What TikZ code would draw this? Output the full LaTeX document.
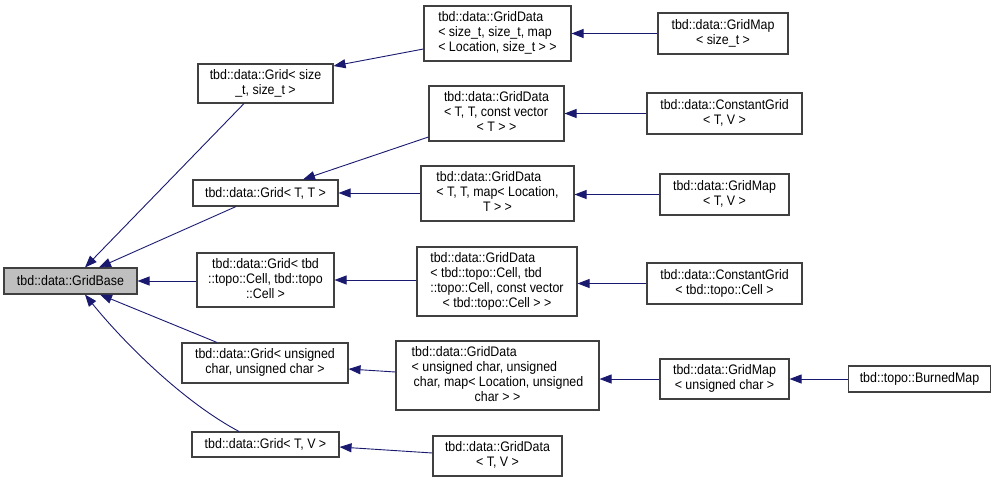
\documentclass[tikz,border=0pt]{standalone}
\usepackage{fontspec}
\setmainfont{Liberation Sans}[FakeStretch=0.9]
\usetikzlibrary{arrows.meta}
\definecolor{edgeblue}{HTML}{191970}
\definecolor{boxline}{HTML}{404040}
\definecolor{basefill}{HTML}{BFBFBF}
\newcommand\leftlines[2]{\begin{tabular}{@{}l@{}}#1\\\multicolumn{1}{@{}c@{}}{#2}\end{tabular}}
\newcommand\midlines[1]{\begin{tabular}{@{}c@{}}#1\end{tabular}}
\tikzset{
  cls/.style={draw=boxline, line width=1.1pt, fill=white, rectangle, inner sep=0pt,
    font=\fontsize{13.8}{15}\selectfont, text=black},
  basecls/.style={cls, fill=basefill},
  edge/.style={draw=edgeblue, line width=0.9pt, -{Triangle[length=12pt,width=9pt]}, color=edgeblue}
}
\begin{document}
\begin{tikzpicture}[x=1pt,y=-1pt]
\useasboundingbox (0,0) rectangle (996,482);
% column 1
\node[basecls, minimum width=133pt, minimum height=26pt] (GridBase) at (70.5,281) {tbd::data::GridBase};
% column 2
\node[cls, minimum width=135pt, minimum height=39pt] (Gsz) at (265.5,83.5) {\midlines{tbd::data::Grid< size\\\_t, size\_t >}};
\node[cls, minimum width=145pt, minimum height=26pt] (Gtt) at (265.5,193) {tbd::data::Grid< T, T >};
\node[cls, minimum width=137pt, minimum height=54pt] (Gcell) at (265.5,280) {\midlines{tbd::data::Grid< tbd\\::topo::Cell, tbd::topo\\::Cell >}};
\node[cls, minimum width=166pt, minimum height=40pt] (Guc) at (265,363) {\midlines{tbd::data::Grid< unsigned\\char, unsigned char >}};
\node[cls, minimum width=147pt, minimum height=25pt] (Gtv) at (265.5,444.5) {tbd::data::Grid< T, V >};
% column 3
\node[cls, minimum width=147pt, minimum height=55pt] (Dsz) at (497.5,33.5) {\leftlines{tbd::data::GridData\\< size\_t, size\_t, map}{< Location, size\_t > >}};
\node[cls, minimum width=135pt, minimum height=55pt] (Dttc) at (496.5,113.5) {\leftlines{tbd::data::GridData\\< T, T, const vector}{< T > >}};
\node[cls, minimum width=153pt, minimum height=55pt] (Dttm) at (497.5,193.5) {\leftlines{tbd::data::GridData\\< T, T, map< Location,}{T > >}};
\node[cls, minimum width=160pt, minimum height=69pt] (Dcell) at (497,281.5) {\leftlines{tbd::data::GridData\\< tbd::topo::Cell, tbd\\::topo::Cell, const vector}{< tbd::topo::Cell > >}};
\node[cls, minimum width=203pt, minimum height=69pt] (Duc) at (497.5,375.5) {\leftlines{tbd::data::GridData\\< unsigned char, unsigned\\\hspace{2pt}char, map< Location, unsigned}{char > >}};
\node[cls, minimum width=129pt, minimum height=40pt] (Dtv) at (497.5,456) {\midlines{tbd::data::GridData\\< T, V >}};
% column 4
\node[cls, minimum width=130pt, minimum height=41pt] (Msz) at (723,33.5) {\midlines{tbd::data::GridMap\\< size\_t >}};
\node[cls, minimum width=155pt, minimum height=41pt] (Ctv) at (724.5,113.5) {\midlines{tbd::data::ConstantGrid\\< T, V >}};
\node[cls, minimum width=129pt, minimum height=41pt] (Mtv) at (724.5,194.5) {\midlines{tbd::data::GridMap\\< T, V >}};
\node[cls, minimum width=155pt, minimum height=41pt] (Ccell) at (724.5,283.5) {\midlines{tbd::data::ConstantGrid\\< tbd::topo::Cell >}};
\node[cls, minimum width=129pt, minimum height=40pt] (Muc) at (724.5,379) {\midlines{tbd::data::GridMap\\< unsigned char >}};
% column 5
\node[cls, minimum width=142pt, minimum height=26pt] (Burned) at (919.5,379) {tbd::topo::BurnedMap};
% edges to GridBase
\draw[edge] ([xshift=-21.5pt]Gsz.south) -- ([xshift=14.5pt]GridBase.north);
\draw[edge] ([xshift=-29.5pt]Gtt.south) -- ([xshift=28.5pt]GridBase.north);
\draw[edge] (Gcell.west |- GridBase.east) -- (GridBase.east);
\draw[edge] ([xshift=-48pt]Guc.north) -- ([xshift=29.5pt]GridBase.south);
\draw[edge] ([xshift=-26.5pt]Gtv.north) .. controls (180,400) and (120,338) .. ([xshift=14.5pt]GridBase.south);
% edges to column 2
\draw[edge] ([yshift=-15.5pt]Dsz.west) -- ([yshift=17.5pt]Gsz.east);
\draw[edge] ([yshift=-23.5pt]Dttc.west) -- ([xshift=37.5pt]Gtt.north);
\draw[edge] (Dttm.west |- Gtt.east) -- (Gtt.east);
\draw[edge] (Dcell.west |- Gcell.east) -- (Gcell.east);
\draw[edge] ([yshift=3.5pt]Duc.west) -- ([yshift=-6pt]Guc.east);
\draw[edge] ([yshift=3pt]Dtv.west) -- ([yshift=-2.5pt]Gtv.east);
% edges to column 3
\draw[edge] (Msz.west |- Dsz.east) -- (Dsz.east);
\draw[edge] (Ctv.west |- Dttc.east) -- (Dttc.east);
\draw[edge] (Mtv.west) -- (Mtv.west -| Dttm.east);
\draw[edge] (Ccell.west) -- (Ccell.west -| Dcell.east);
\draw[edge] (Muc.west) -- (Muc.west -| Duc.east);
% edge to column 4
\draw[edge] (Burned) -- (Muc);
\end{tikzpicture}
\end{document}
